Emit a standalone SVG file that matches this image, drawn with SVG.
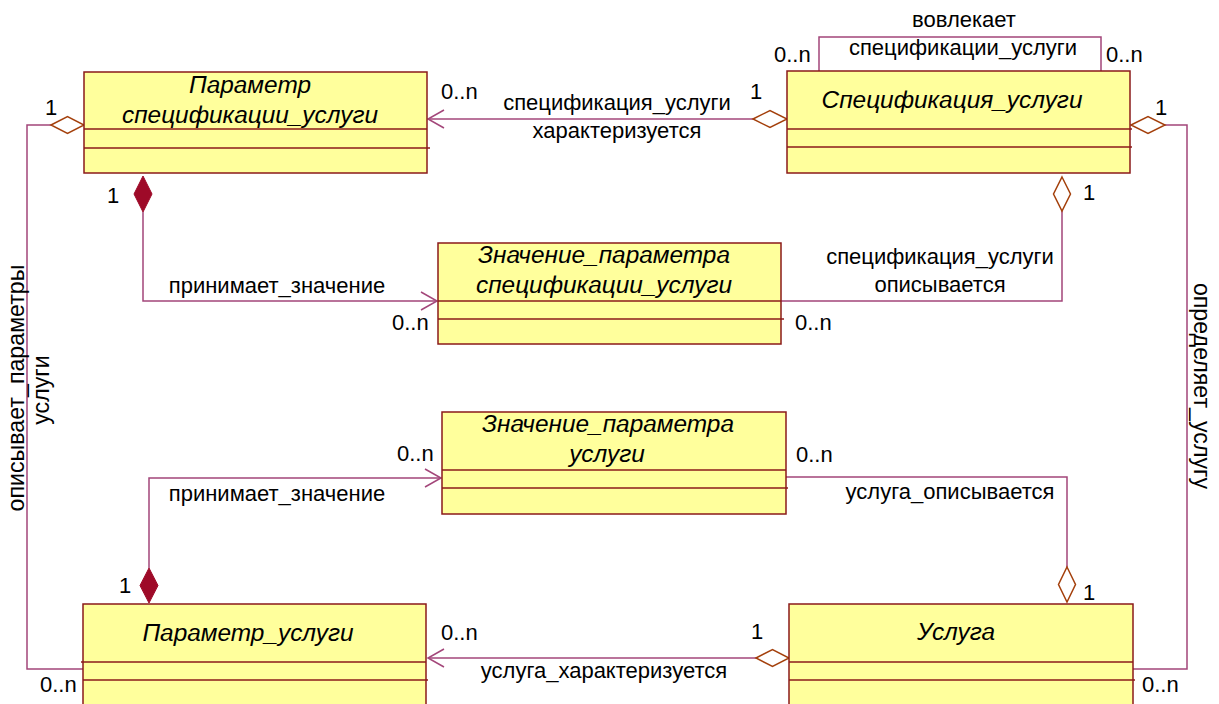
<svg xmlns="http://www.w3.org/2000/svg" width="1219" height="704" viewBox="0 0 1219 704">
<style>
.box{fill:#ffff9c;stroke:#8b1a1a;stroke-width:1.5}
.div{stroke:#8b1a1a;stroke-width:1.5}
.title{font-family:"Liberation Sans",Arial,sans-serif;font-style:italic;font-size:24.4px;fill:#000;text-anchor:middle}
.lbl{font-family:"Liberation Sans",Arial,sans-serif;font-size:22px;fill:#000}
.vert{font-size:23.2px}
.mid{text-anchor:middle}
.con{fill:none;stroke:#a3467a;stroke-width:1.5}
.hd{fill:#fff;stroke:#a4400c;stroke-width:1.5}
.fd{fill:#9e0a28;stroke:#9e0a28;stroke-width:1}
</style>
<defs>
<marker id="arr" markerUnits="userSpaceOnUse" markerWidth="20" markerHeight="22" refX="17" refY="10" orient="auto" overflow="visible">
<path d="M1,1 L17,10 L1,19" fill="none" stroke="#a3467a" stroke-width="1.5"/>
</marker>
</defs>
<rect width="1219" height="704" fill="#fff"/>

<g id="connectors">
<path class="con" d="M753,119 H428" marker-end="url(#arr)"/>
<path class="con" d="M819,71 V37 H1101 V71"/>
<path class="con" d="M51,125 H27 V669 H83"/>
<path class="con" d="M143,212 V301 H437" marker-end="url(#arr)"/>
<path class="con" d="M1062,211 V301 H781"/>
<path class="con" d="M1165,125 H1187 V669 H1133"/>
<path class="con" d="M149,568 V478 H441" marker-end="url(#arr)"/>
<path class="con" d="M1067,567 V477 H786"/>
<path class="con" d="M756,658 H428" marker-end="url(#arr)"/>
<polygon class="hd" points="753,119 770,110.5 787,119 770,127.5"/>
<polygon class="hd" points="51,125 67.5,116.5 84,125 67.5,133.5"/>
<polygon class="fd" points="143,176 152,194 143,212 134,194"/>
<polygon class="hd" points="1062,177 1070.5,194 1062,211 1053.5,194"/>
<polygon class="hd" points="1131,125 1148,116.5 1165,125 1148,133.5"/>
<polygon class="fd" points="149,568 158,585.5 149,603 140,585.5"/>
<polygon class="hd" points="1067,567 1075.5,584.5 1067,602 1058.5,584.5"/>
<polygon class="hd" points="756,658 772.5,649.5 789,658 772.5,666.5"/>
<text class="lbl mid" x="964" y="27">вовлекает</text>
<text class="lbl mid" x="963" y="55">спецификации_услуги</text>
<text class="lbl" x="774" y="62">0..n</text>
<text class="lbl" x="1106" y="62">0..n</text>
<text class="lbl" x="441" y="99">0..n</text>
<text class="lbl" x="750" y="99">1</text>
<text class="lbl mid" x="617" y="110">спецификация_услуги</text>
<text class="lbl mid" x="617" y="138">характеризуется</text>
<text class="lbl" x="45" y="115">1</text>
<text class="lbl" x="1155" y="115">1</text>
<text class="lbl" x="107" y="203">1</text>
<text class="lbl" x="1083" y="200">1</text>
<text class="lbl mid" x="277" y="293">принимает_значение</text>
<text class="lbl" x="392" y="330">0..n</text>
<text class="lbl mid" x="940" y="264">спецификация_услуги</text>
<text class="lbl mid" x="940" y="292">описывается</text>
<text class="lbl" x="795" y="330">0..n</text>
<text class="lbl vert mid" transform="translate(24,388) rotate(-90)">описывает_параметры</text>
<text class="lbl vert mid" transform="translate(49,390) rotate(-90)">услуги</text>
<text class="lbl vert mid" transform="translate(1194,386) rotate(90)">определяет_услугу</text>
<text class="lbl" x="397" y="461">0..n</text>
<text class="lbl" x="796" y="462">0..n</text>
<text class="lbl mid" x="277" y="501">принимает_значение</text>
<text class="lbl mid" x="950" y="499">услуга_описывается</text>
<text class="lbl" x="119" y="593">1</text>
<text class="lbl" x="1083" y="600">1</text>
<text class="lbl" x="441" y="640">0..n</text>
<text class="lbl" x="751" y="639">1</text>
<text class="lbl mid" x="604" y="678">услуга_характеризуется</text>
<text class="lbl" x="40" y="692">0..n</text>
<text class="lbl" x="1142" y="692">0..n</text>
</g>

<g id="n1">
<rect class="box" x="84" y="72" width="343" height="101"/>
<line class="div" x1="84" y1="129" x2="427" y2="129"/>
<line class="div" x1="84" y1="148" x2="430" y2="148"/>
<text class="title" x="250" y="93">Параметр</text>
<text class="title" x="250" y="123">спецификации_услуги</text>
</g>
<g id="n2">
<rect class="box" x="787" y="71" width="343" height="102"/>
<line class="div" x1="787" y1="129" x2="1132" y2="129"/>
<line class="div" x1="787" y1="147" x2="1132" y2="147"/>
<text class="title" x="952" y="108">Спецификация_услуги</text>
</g>
<g id="n3">
<rect class="box" x="438" y="243" width="343" height="101"/>
<line class="div" x1="438" y1="301" x2="781" y2="301"/>
<line class="div" x1="438" y1="319" x2="784" y2="319"/>
<text class="title" x="604" y="263">Значение_параметра</text>
<text class="title" x="604" y="293">спецификации_услуги</text>
</g>
<g id="n4">
<rect class="box" x="442" y="412" width="344" height="102"/>
<line class="div" x1="442" y1="470" x2="786" y2="470"/>
<line class="div" x1="442" y1="488" x2="788" y2="488"/>
<text class="title" x="608" y="432">Значение_параметра</text>
<text class="title" x="607" y="462">услуги</text>
</g>
<g id="n5">
<rect class="box" x="83" y="604" width="343" height="120"/>
<line class="div" x1="81" y1="662" x2="426" y2="662"/>
<line class="div" x1="83" y1="680" x2="428" y2="680"/>
<text class="title" x="248" y="641">Параметр_услуги</text>
</g>
<g id="n6">
<rect class="box" x="789" y="604" width="344" height="120"/>
<line class="div" x1="789" y1="662" x2="1133" y2="662"/>
<line class="div" x1="789" y1="680" x2="1135" y2="680"/>
<text class="title" x="956" y="640">Услуга</text>
</g>
</svg>
